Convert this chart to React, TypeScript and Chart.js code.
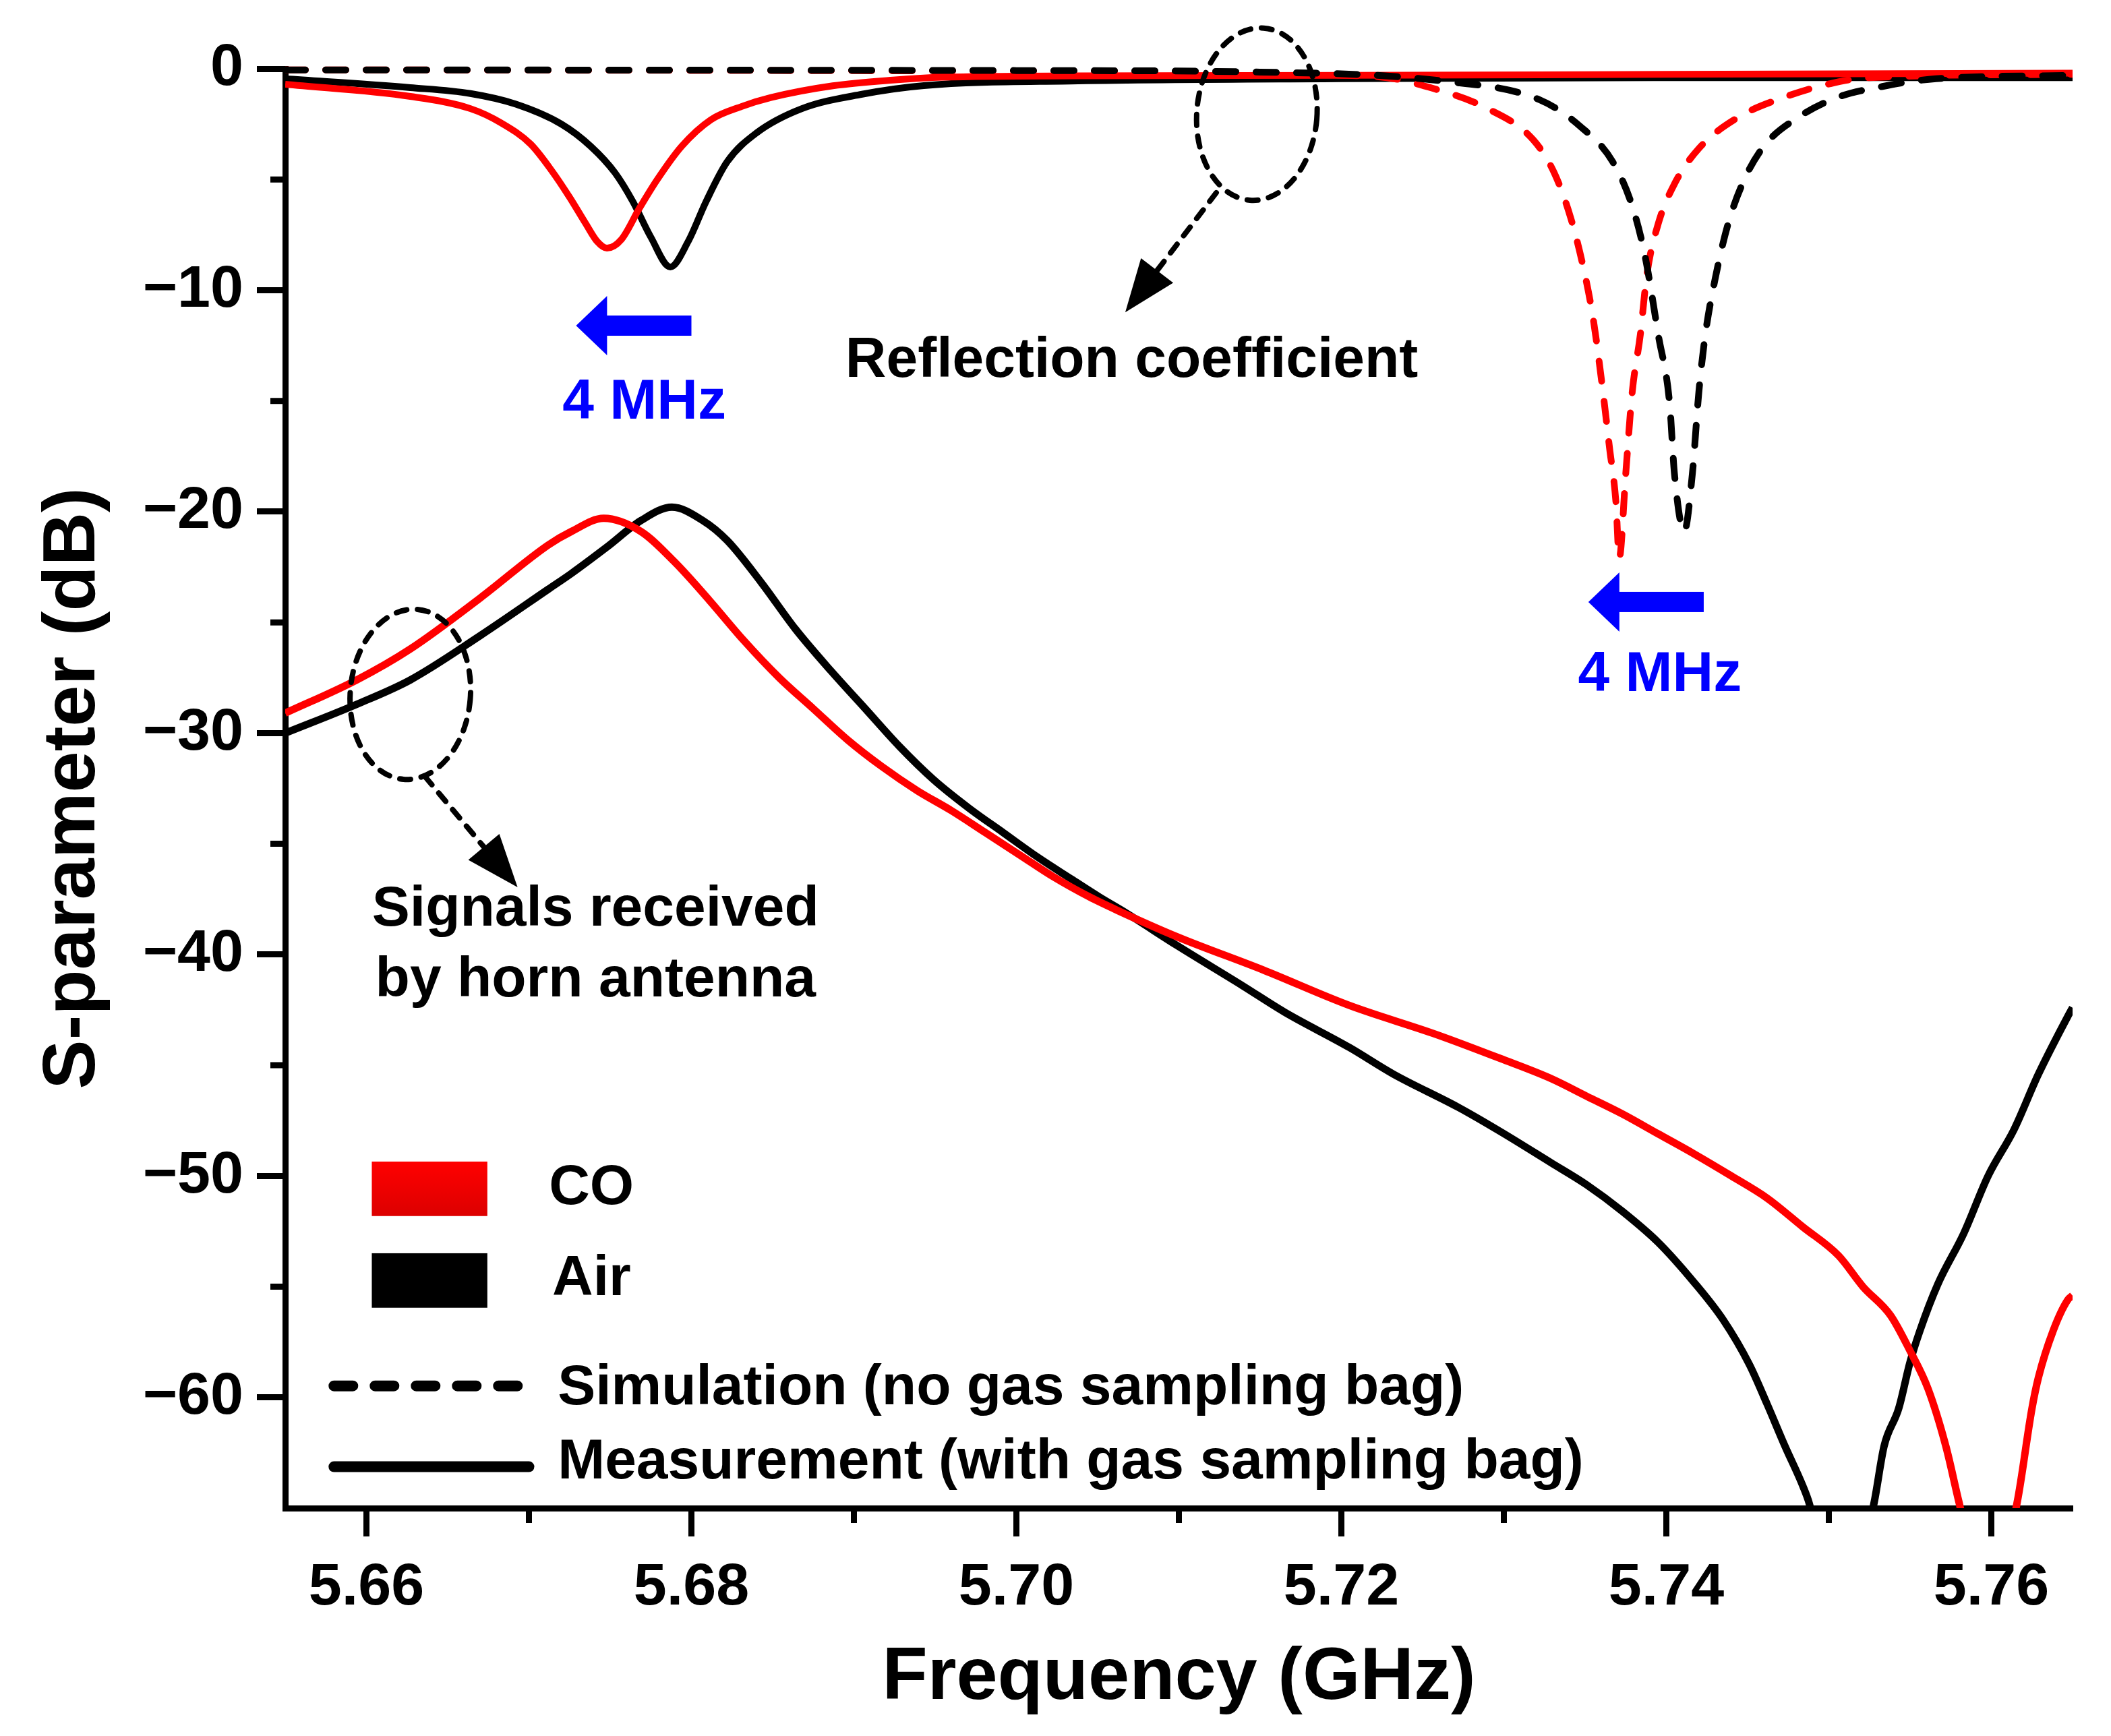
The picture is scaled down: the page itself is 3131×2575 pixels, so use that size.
import { useEffect, useRef } from "react"
import { Chart, registerables, type ChartConfiguration, type Plugin } from "chart.js"

Chart.register(...registerables)

// axis ranges and ticks
const X_MIN = 5.655
const X_MAX = 5.765
const Y_MIN = -65
const Y_MAX = 0
const X_TICKS = [5.66, 5.68, 5.7, 5.72, 5.74, 5.76]
const X_MINOR = [5.67, 5.69, 5.71, 5.73, 5.75]
const Y_TICKS = [0, -10, -20, -30, -40, -50, -60]
const Y_MINOR = [-5, -15, -25, -35, -45, -55]

// reflection coefficient, measured (solid)
const S11_CO_MEAS_F = [5.655, 5.6627, 5.6664, 5.6683, 5.6701, 5.6714, 5.6725, 5.6735, 5.6742, 5.6748, 5.6757, 5.6768, 5.6779, 5.6794, 5.6812, 5.6831, 5.6849, 5.6887, 5.6924, 5.6955, 5.7038, 5.72, 5.74, 5.765]
const S11_CO_MEAS_DB = [-0.7, -1.25, -1.8, -2.45, -3.4, -4.6, -5.8, -7.0, -7.8, -8.1, -7.7, -6.3, -5.0, -3.5, -2.3, -1.7, -1.3, -0.77, -0.51, -0.38, -0.32, -0.3, -0.25, -0.2]
const S11_AIR_MEAS_F = [5.655, 5.6627, 5.6664, 5.6692, 5.672, 5.6738, 5.6753, 5.6764, 5.6775, 5.6787, 5.6798, 5.6809, 5.6822, 5.684, 5.6868, 5.6905, 5.6943, 5.7038, 5.72, 5.74, 5.765]
const S11_AIR_MEAS_DB = [-0.45, -0.85, -1.12, -1.6, -2.5, -3.5, -4.7, -6.0, -7.6, -8.95, -7.8, -6.0, -4.2, -2.9, -1.8, -1.15, -0.76, -0.55, -0.45, -0.4, -0.4]

// reflection coefficient, simulated (dashed)
const S11_AIR_SIM_F = [5.655, 5.7, 5.715, 5.7262, 5.7322, 5.7347, 5.7367, 5.7379, 5.7387, 5.7395, 5.7402, 5.7405, 5.7411, 5.7416, 5.742, 5.7424, 5.743, 5.7438, 5.7448, 5.746, 5.7481, 5.7505, 5.7533, 5.7566, 5.765]
const S11_AIR_SIM_DB = [-0.05, -0.08, -0.15, -0.55, -1.4, -2.6, -4.2, -6.2, -8.5, -12.0, -15.1, -18.3, -20.9, -18.3, -14.6, -12.0, -9.5, -7.0, -5.0, -3.5, -2.2, -1.3, -0.8, -0.45, -0.3]
const S11_CO_SIM_F = [5.655, 5.7, 5.7221, 5.7257, 5.729, 5.7318, 5.7331, 5.7341, 5.7349, 5.7355, 5.7361, 5.7365, 5.7369, 5.7371, 5.7375, 5.7379, 5.7384, 5.7388, 5.7395, 5.7405, 5.742, 5.7444, 5.7472, 5.7501, 5.7525, 5.765]
const S11_CO_SIM_DB = [-0.05, -0.1, -0.35, -0.9, -1.8, -3.2, -4.7, -6.7, -9.0, -11.3, -14.6, -17.1, -19.6, -22.1, -18.3, -14.6, -12.0, -9.3, -7.0, -5.2, -3.6, -2.2, -1.3, -0.67, -0.4, -0.25]

// signals received by horn antenna (solid)
const S21_CO_F = [5.655, 5.6594, 5.6627, 5.667, 5.6712, 5.6726, 5.6746, 5.6769, 5.679, 5.6811, 5.6832, 5.6854, 5.6875, 5.6896, 5.6917, 5.6939, 5.696, 5.6981, 5.7002, 5.7023, 5.7045, 5.7062, 5.7099, 5.7152, 5.7205, 5.7258, 5.7298, 5.7329, 5.7351, 5.7373, 5.7395, 5.7417, 5.744, 5.7462, 5.7484, 5.7506, 5.7521, 5.7538, 5.755, 5.7561, 5.7572, 5.758, 5.7598, 5.7616, 5.7625, 5.7629, 5.7638, 5.7647, 5.765]
const S21_CO_DB = [-29.1, -27.6, -26.2, -23.9, -21.5, -20.9, -20.3, -20.9, -22.3, -24.0, -25.8, -27.5, -28.9, -30.3, -31.5, -32.6, -33.5, -34.5, -35.5, -36.5, -37.4, -38.0, -39.2, -40.7, -42.3, -43.6, -44.7, -45.6, -46.4, -47.2, -48.1, -49.0, -50.0, -51.0, -52.3, -53.6, -55.0, -56.3, -57.9, -59.6, -62.2, -64.7, -70, -64.7, -60.5, -59.1, -57.0, -55.6, -55.4]
const S21_AIR_F = [5.655, 5.6594, 5.6627, 5.667, 5.6712, 5.6726, 5.6748, 5.6769, 5.6788, 5.6807, 5.6822, 5.6843, 5.6864, 5.6886, 5.6907, 5.6928, 5.6949, 5.6971, 5.6992, 5.7013, 5.7034, 5.7051, 5.7067, 5.7099, 5.7139, 5.7165, 5.7205, 5.7232, 5.7272, 5.7298, 5.7329, 5.7351, 5.7373, 5.7395, 5.7417, 5.7435, 5.7451, 5.7462, 5.7473, 5.7484, 5.7488, 5.7508, 5.7528, 5.7534, 5.7543, 5.755, 5.7556, 5.7567, 5.7583, 5.7598, 5.7614, 5.7629, 5.7647, 5.765]
const S21_AIR_DB = [-30.0, -28.7, -27.6, -25.6, -23.5, -22.8, -21.6, -20.4, -19.8, -20.4, -21.3, -23.2, -25.3, -27.2, -28.9, -30.6, -32.1, -33.4, -34.5, -35.6, -36.6, -37.4, -38.1, -39.6, -41.4, -42.6, -44.2, -45.4, -46.9, -48.0, -49.4, -50.4, -51.6, -53.0, -54.8, -56.5, -58.5, -60.3, -62.2, -64.0, -64.8, -71, -64.7, -62.2, -60.5, -58.4, -57.0, -54.9, -52.6, -50.0, -47.9, -45.4, -42.8, -42.4]

const RED = "#ff0000"
const BLACK = "#000000"
const BLUE = "#0000ff"
const FONT = "'Liberation Sans', Arial, sans-serif"

const zip = (f: number[], d: number[]) => f.map((x, i) => ({ x, y: d[i] }))

type Ctx = CanvasRenderingContext2D

function dashedEllipse(ctx: Ctx, cx: number, cy: number, rx: number, ry: number, rot: number) {
  ctx.save()
  ctx.strokeStyle = BLACK
  ctx.lineWidth = 8
  ctx.lineCap = "round"
  ctx.setLineDash([16, 16])
  ctx.beginPath()
  ctx.ellipse(cx, cy, rx, ry, rot, 0, Math.PI * 2)
  ctx.stroke()
  ctx.restore()
}

function dashedArrow(ctx: Ctx, x1: number, y1: number, x2: number, y2: number) {
  const a = Math.atan2(y2 - y1, x2 - x1)
  const len = 78
  const half = 30
  const bx = x2 - len * Math.cos(a)
  const by = y2 - len * Math.sin(a)
  ctx.save()
  ctx.strokeStyle = BLACK
  ctx.fillStyle = BLACK
  ctx.lineWidth = 8
  ctx.lineCap = "round"
  ctx.setLineDash([16, 16])
  ctx.beginPath()
  ctx.moveTo(x1, y1)
  ctx.lineTo(bx, by)
  ctx.stroke()
  ctx.setLineDash([])
  ctx.beginPath()
  ctx.moveTo(x2, y2)
  ctx.lineTo(bx + half * Math.sin(a), by - half * Math.cos(a))
  ctx.lineTo(bx - half * Math.sin(a), by + half * Math.cos(a))
  ctx.closePath()
  ctx.fill()
  ctx.restore()
}

function blueArrow(ctx: Ctx, tipX: number, tailX: number, y: number) {
  const headLen = 46
  ctx.save()
  ctx.fillStyle = BLUE
  ctx.fillRect(tipX + headLen - 2, y - 15, tailX - tipX - headLen + 2, 30)
  ctx.beginPath()
  ctx.moveTo(tipX, y)
  ctx.lineTo(tipX + headLen, y - 44)
  ctx.lineTo(tipX + headLen, y + 44)
  ctx.closePath()
  ctx.fill()
  ctx.restore()
}

function label(ctx: Ctx, text: string, x: number, y: number, color: string, align: CanvasTextAlign) {
  ctx.save()
  ctx.fillStyle = color
  ctx.font = `bold 84px ${FONT}`
  ctx.textAlign = align
  ctx.textBaseline = "middle"
  ctx.fillText(text, x, y)
  ctx.restore()
}

const overlay: Plugin<"line"> = {
  id: "overlay",
  afterDraw(chart) {
    const { ctx, chartArea } = chart
    const xs = chart.scales.x
    const ys = chart.scales.y
    const px = (f: number) => xs.getPixelForValue(f)
    const py = (d: number) => ys.getPixelForValue(d)

    // minor ticks
    ctx.save()
    ctx.strokeStyle = BLACK
    ctx.lineWidth = 9
    ctx.beginPath()
    X_MINOR.forEach((v) => {
      ctx.moveTo(px(v), chartArea.bottom)
      ctx.lineTo(px(v), chartArea.bottom + 22)
    })
    Y_MINOR.forEach((v) => {
      ctx.moveTo(chartArea.left, py(v))
      ctx.lineTo(chartArea.left - 22, py(v))
    })
    ctx.stroke()
    ctx.restore()

    // circled regions and pointers
    dashedEllipse(ctx, px(5.7148), py(-2.05), px(5.7185) - px(5.7148), py(-5.95) - py(-2.05), 0.08)
    dashedArrow(ctx, px(5.7123), py(-5.6), px(5.7067), py(-11.0))
    dashedEllipse(ctx, px(5.6627), py(-28.25), px(5.6664) - px(5.6627), py(-32.1) - py(-28.25), 0.08)
    dashedArrow(ctx, px(5.6636), py(-31.96), px(5.6693), py(-36.96))

    // 4 MHz shifts
    blueArrow(ctx, px(5.6729), px(5.68), py(-11.6))
    blueArrow(ctx, px(5.7352), px(5.7423), py(-24.08))
    label(ctx, "4 MHz", px(5.6771), py(-15.1), BLUE, "center")
    label(ctx, "4 MHz", px(5.7396), py(-27.4), BLUE, "center")

    label(ctx, "Reflection coefficient", px(5.7071), py(-13.2), BLACK, "center")
    label(ctx, "Signals received", px(5.6741), py(-38.0), BLACK, "center")
    label(ctx, "by horn antenna", px(5.6741), py(-41.2), BLACK, "center")

    // legend
    const lx0 = px(5.66033)
    const lx1 = px(5.66744)
    const grad = ctx.createLinearGradient(0, py(-49.35), 0, py(-51.81))
    grad.addColorStop(0, "#ff0000")
    grad.addColorStop(1, "#dc0000")
    ctx.save()
    ctx.fillStyle = grad
    ctx.fillRect(lx0, py(-49.35), lx1 - lx0, py(-51.81) - py(-49.35))
    ctx.fillStyle = BLACK
    ctx.fillRect(lx0, py(-53.49), lx1 - lx0, py(-55.95) - py(-53.49))
    ctx.strokeStyle = BLACK
    ctx.lineWidth = 16
    ctx.lineCap = "round"
    ctx.setLineDash([28, 33])
    ctx.beginPath()
    ctx.moveTo(px(5.658), py(-59.48))
    ctx.lineTo(px(5.67), py(-59.48))
    ctx.stroke()
    ctx.setLineDash([])
    ctx.beginPath()
    ctx.moveTo(px(5.658), py(-63.13))
    ctx.lineTo(px(5.67), py(-63.13))
    ctx.stroke()
    ctx.restore()
    label(ctx, "CO", px(5.67123), py(-50.56), BLACK, "left")
    label(ctx, "Air", px(5.67143), py(-54.67), BLACK, "left")
    label(ctx, "Simulation (no gas sampling bag)", px(5.67177), py(-59.6), BLACK, "left")
    label(ctx, "Measurement (with gas sampling bag)", px(5.67177), py(-62.95), BLACK, "left")
  },
}

export default function App() {
  const canvasRef = useRef<HTMLCanvasElement>(null)
  const chartRef = useRef<Chart<"line"> | null>(null)

  useEffect(() => {
    document.body.style.margin = "0"
    if (!canvasRef.current) return
    if (chartRef.current) chartRef.current.destroy()

    const solid = (data: { x: number; y: number }[], color: string, width = 10) => ({
      data,
      borderColor: color,
      borderWidth: width,
      pointRadius: 0,
      cubicInterpolationMode: "monotone" as const,
      clip: { left: 0, top: 8, right: 0, bottom: 0 },
    })
    const dashed = (data: { x: number; y: number }[], color: string) => ({
      ...solid(data, color),
      borderDash: [30, 30],
      borderCapStyle: "round" as const,
    })

    const config: ChartConfiguration<"line"> = {
      type: "line",
      data: {
        datasets: [
          dashed(zip(S11_AIR_SIM_F, S11_AIR_SIM_DB), BLACK),
          dashed(zip(S11_CO_SIM_F, S11_CO_SIM_DB), RED),
          solid(zip(S11_CO_MEAS_F, S11_CO_MEAS_DB), RED),
          solid(zip(S21_CO_F, S21_CO_DB), RED, 11),
          solid(zip(S11_AIR_MEAS_F, S11_AIR_MEAS_DB), BLACK),
          solid(zip(S21_AIR_F, S21_AIR_DB), BLACK, 11),
        ],
      },
      options: {
        animation: false,
        responsive: true,
        maintainAspectRatio: false,
        devicePixelRatio: 1,
        layout: { padding: { top: 102, right: 57, bottom: 0, left: 0 } },
        plugins: { legend: { display: false }, tooltip: { enabled: false } },
        scales: {
          x: {
            type: "linear",
            min: X_MIN,
            max: X_MAX,
            z: 1,
            afterBuildTicks: (s) => {
              s.ticks = X_TICKS.map((value) => ({ value }))
            },
            afterFit: (s) => {
              s.height = 338
            },
            border: { display: true, color: BLACK, width: 9 },
            grid: { display: true, drawOnChartArea: false, drawTicks: true, tickLength: 42, tickWidth: 9, tickColor: BLACK },
            ticks: {
              color: BLACK,
              padding: 24,
              maxRotation: 0,
              autoSkip: false,
              font: { family: FONT, size: 88, weight: "bold" },
              callback: (v) => Number(v).toFixed(2),
            },
            title: {
              display: true,
              text: "Frequency (GHz)",
              color: BLACK,
              font: { family: FONT, size: 110, weight: "bold" },
              padding: { top: 0, bottom: 19 },
            },
          },
          y: {
            type: "linear",
            min: Y_MIN,
            max: Y_MAX,
            z: 1,
            afterBuildTicks: (s) => {
              s.ticks = Y_TICKS.map((value) => ({ value }))
            },
            afterFit: (s) => {
              s.width = 423
            },
            border: { display: true, color: BLACK, width: 9 },
            grid: { display: true, drawOnChartArea: false, drawTicks: true, tickLength: 42, tickWidth: 9, tickColor: BLACK },
            ticks: {
              color: BLACK,
              padding: 20,
              autoSkip: false,
              font: { family: FONT, size: 88, weight: "bold" },
              callback: (v) => (Number(v) === 0 ? "0" : "\u2212" + Math.abs(Number(v))),
            },
            title: {
              display: true,
              text: "S-parameter (dB)",
              color: BLACK,
              font: { family: FONT, size: 110, weight: "bold" },
              padding: { top: 44, bottom: 0 },
            },
          },
        },
      },
      plugins: [overlay],
    }

    chartRef.current = new Chart(canvasRef.current, config)

    return () => {
      if (chartRef.current) {
        chartRef.current.destroy()
        chartRef.current = null
      }
    }
  }, [])

  return (
    <div style={{ position: "relative", width: 3131, height: 2575 }}>
      <canvas ref={canvasRef} />
    </div>
  )
}
